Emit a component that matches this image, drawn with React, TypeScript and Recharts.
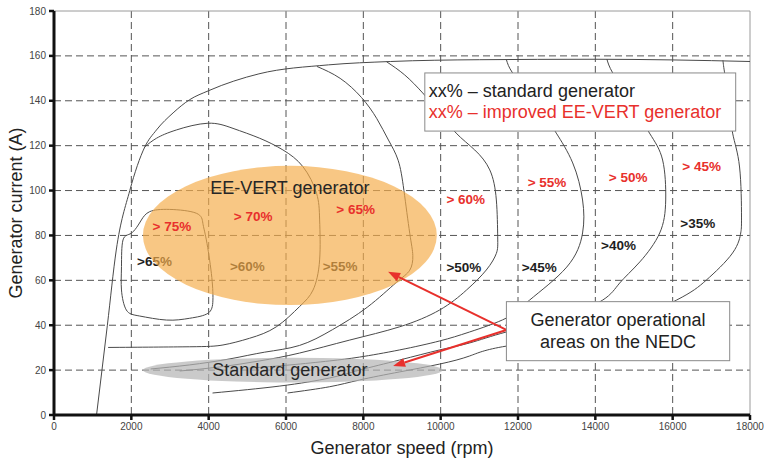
import React from 'react';
import {
  ComposedChart, Line, Scatter, XAxis, YAxis, CartesianGrid, ReferenceArea, ReferenceLine,
} from 'recharts';

const FONT = "'Liberation Sans', Arial, sans-serif";
const RED = '#e8302c';
const CONTOUR = '#4a4a4a';

const xTicks = [0, 2000, 4000, 6000, 8000, 10000, 12000, 14000, 16000, 18000];
const yTicks = [0, 20, 40, 60, 80, 100, 120, 140, 160, 180];
const xGrid = [2000, 4000, 6000, 8000, 10000, 12000, 14000, 16000];
const yGrid = [20, 40, 60, 80, 100, 120, 140, 160];

// max current envelope
const envelope = [
  [1100, 0], [1380, 40], [1610, 73.5], [1960, 100], [2350, 119.5], [2650, 127], [3080, 134.6],
  [3500, 140.4], [4000, 144.5], [5300, 152], [7100, 156], [8700, 157.5], [11000, 158.3],
  [14000, 158.5], [16000, 158.2], [18000, 157.5],
];

// efficiency contours of the standard generator
const c65 = [
  [2260, 86.9], [2475, 90.6], [2990, 91.6], [3680, 89.9], [3850, 85.4], [3940, 78], [4070, 63.1],
  [4110, 51.2], [3980, 45.3], [3510, 43.1], [2910, 42.3], [2215, 44.1], [1870, 46.8], [1745, 55.7],
  [1745, 66.1], [1785, 78], [2000, 81], [2260, 86.9],
];
const c60 = [
  [2350, 119.5], [2650, 123.3], [3165, 127], [3980, 130], [4630, 127.7], [5320, 123.3], [5920, 118.1],
  [6440, 110.6], [6790, 98.8], [6870, 86.9], [6870, 69.1], [6700, 55.7], [6350, 48.3], [5750, 39.3],
  [5060, 34.2], [4370, 31.2], [3510, 30.4], [1400, 30.1],
];
const c55 = [
  [6800, 155.3], [7400, 150], [7950, 141.5], [8350, 132], [8650, 122.5], [8900, 113.5], [9050, 100],
  [9200, 81], [9280, 71], [9200, 64.5], [8850, 59], [8100, 48], [7200, 38], [6350, 31], [5450, 28],
  [4550, 25], [3500, 22.3], [2500, 20.5],
];
const c50 = [
  [8600, 157.4], [9070, 151.5], [9535, 143.5], [9975, 134.6], [10400, 125.6], [10880, 118.1],
  [11270, 109.2], [11440, 95.8], [11475, 79.4], [11440, 72], [11180, 64.6], [10670, 55.7],
  [9975, 46.8], [8940, 39.3], [7650, 33.4], [6350, 27.6], [5320, 24.1], [4285, 21.4], [3250, 19.6],
];
const c45 = [
  [11700, 158.3], [11860, 152.4], [12300, 142.6], [12690, 133.7], [12990, 125.6], [13415, 112.3],
  [13670, 95.8], [13670, 81.1], [13260, 65.9], [12300, 51.2], [11700, 43.2], [10750, 37], [9975, 33],
  [8940, 29], [7900, 25.8], [7130, 24.1], [6100, 22.3], [5060, 20.9],
];
const c40 = [
  [14300, 158.5], [14450, 152.4], [14890, 140.3], [15400, 125.6], [15740, 113.6], [15820, 95.8],
  [15665, 81.1], [15150, 68.2], [14630, 58.8], [14190, 51.2], [13080, 43.2], [11700, 37], [10750, 32.1],
  [9975, 29], [8940, 24.5], [7900, 20], [7130, 16.5], [5840, 12.9], [4100, 9.8],
];
const c35 = [
  [17300, 158], [17346, 152.2], [17450, 140.3], [17550, 125.6], [17730, 110.5], [17780, 88.2],
  [17760, 81.1], [17550, 72.2], [16870, 60.1], [16100, 51.2], [14110, 37.9], [11700, 30.7],
  [10750, 26.3], [9975, 22.7], [8940, 19.2], [7900, 15.6], [7130, 12.6], [6040, 9.8],
];

const standardLabels = [
  { x: 2600, y: 68.5, label: '>65%' }, { x: 5000, y: 66, label: '>60%' }, { x: 7400, y: 66, label: '>55%' },
  { x: 10600, y: 65.5, label: '>50%' }, { x: 12550, y: 65.5, label: '>45%' },
  { x: 14600, y: 75.5, label: '>40%' }, { x: 16650, y: 85.5, label: '>35%' },
];
const improvedLabels = [
  { x: 3050, y: 84, label: '> 75%' }, { x: 5150, y: 88.5, label: '> 70%' }, { x: 7800, y: 91.5, label: '> 65%' },
  { x: 10650, y: 96, label: '> 60%' }, { x: 12750, y: 103.5, label: '> 55%' },
  { x: 14850, y: 106, label: '> 50%' }, { x: 16750, y: 110.5, label: '> 45%' },
];
const areaLabels = [
  { x: 6100, y: 101, label: 'EE-VERT generator' },
  { x: 6100, y: 20, label: 'Standard generator' },
];

const eeVertArea = { x1: 2300, x2: 9900, y1: 49, y2: 111 };
const standardArea = { x1: 2300, x2: 10050, y1: 14.5, y2: 25.5 };
const legendBox = { x1: 9590, x2: 17630, y1: 126.5, y2: 152.4 };
const noteBox = { x1: 11700, x2: 17475, y1: 24.2, y2: 50.5 };
const arrowStart = { x: 11700, y: 37.9 };
const arrowTips = [{ x: 8640, y: 63.8 }, { x: 8770, y: 21.8 }];

const pts = (a: number[][]) => a.map(([x, y]) => ({ x, y }));
const contours = [envelope, c65, c60, c55, c50, c45, c40, c35];

const textShape = (color: string, weight: any, size: number) => (p: any) => (
  <text x={p.cx} y={p.cy} textAnchor="middle" dominantBaseline="central" fill={color}
    fontSize={size} fontWeight={weight} fontFamily={FONT}>{p.payload.label}</text>
);

const ellipseShape = (fill: string, opacity: number) => (p: any) => (
  <ellipse cx={p.x + p.width / 2} cy={p.y + p.height / 2} rx={Math.abs(p.width) / 2}
    ry={Math.abs(p.height) / 2} fill={fill} fillOpacity={opacity} />
);

const legendShape = (p: any) => (
  <g fontFamily={FONT} fontSize={18}>
    <rect x={p.x} y={p.y} width={p.width} height={p.height} fill="#fff" stroke="#8a8a8a" />
    <text x={p.x + 4} y={p.y + 24} fill="#222">xx% – standard generator</text>
    <text x={p.x + 4} y={p.y + 45} fill={RED}>xx% – improved EE-VERT generator</text>
  </g>
);

const noteShape = (p: any) => (
  <g fontFamily={FONT} fontSize={18} fill="#222" textAnchor="middle">
    <rect x={p.x} y={p.y} width={p.width} height={p.height} fill="#fff" stroke="#8a8a8a" />
    <text x={p.x + p.width / 2} y={p.y + 24}>Generator operational</text>
    <text x={p.x + p.width / 2} y={p.y + 46}>areas on the NEDC</text>
  </g>
);

const arrowShape = (p: any) => {
  const { x1, y1, x2, y2 } = p;
  const a = Math.atan2(y2 - y1, x2 - x1);
  const bx = x2 - 12 * Math.cos(a);
  const by = y2 - 12 * Math.sin(a);
  const nx = -Math.sin(a) * 4.5;
  const ny = Math.cos(a) * 4.5;
  return (
    <g>
      <line x1={x1} y1={y1} x2={bx} y2={by} stroke={RED} strokeWidth={2} />
      <polygon points={`${x2},${y2} ${bx + nx},${by + ny} ${bx - nx},${by - ny}`} fill={RED} />
    </g>
  );
};

export default function App() {
  return (
    <div style={{ position: 'absolute', left: 0, top: 0 }}>
      <ComposedChart width={764} height={459} margin={{ top: 11, right: 14, bottom: 0, left: 0 }}>
        <CartesianGrid stroke="#555" strokeDasharray="7 4" horizontalValues={yGrid} verticalValues={xGrid} />
        <ReferenceLine y={180} stroke="#9a9a9a" zIndex={50} />
        <ReferenceLine x={18000} stroke="#9a9a9a" zIndex={50} />
        <XAxis type="number" dataKey="x" domain={[0, 18000]} ticks={xTicks} interval={0} allowDataOverflow
          height={44} tickSize={5} tickMargin={3}
          tick={{ fontSize: 10, fill: '#444', fontFamily: FONT }}
          axisLine={{ stroke: '#111', strokeWidth: 3 }} tickLine={{ stroke: '#111', strokeWidth: 2.5 }}
          label={{
            content: (props: any) => (
              <text x={props.viewBox.x + props.viewBox.width / 2} y={props.viewBox.y + 39}
                textAnchor="middle" fontSize={18} fill="#222" fontFamily={FONT}>Generator speed (rpm)</text>
            ),
          }} />
        <YAxis type="number" dataKey="y" domain={[0, 180]} ticks={yTicks} interval={0} allowDataOverflow
          width={54} tickSize={5} tickMargin={3}
          tick={{ fontSize: 10, fill: '#444', fontFamily: FONT }}
          axisLine={{ stroke: '#111', strokeWidth: 3 }} tickLine={{ stroke: '#111', strokeWidth: 2.5 }}
          label={{
            content: (props: any) => {
              const cx = props.viewBox.x + 16;
              const cy = props.viewBox.y + props.viewBox.height / 2;
              return (
                <text x={cx} y={cy} transform={`rotate(-90 ${cx} ${cy})`} textAnchor="middle"
                  dominantBaseline="central" fontSize={18} fill="#222" fontFamily={FONT}>Generator current (A)</text>
              );
            },
          }} />
        {contours.map((c, i) => (
          <Line key={i} data={pts(c)} dataKey="y" type={i === 0 ? 'monotone' : 'natural'} stroke={CONTOUR}
            strokeWidth={1} dot={false} activeDot={false} isAnimationActive={false} zIndex={400} />
        ))}
        <Scatter data={standardLabels} dataKey="y" shape={textShape('#1e1e1e', 'bold', 13.5)}
          isAnimationActive={false} zIndex={450} />
        <ReferenceArea {...eeVertArea} shape={ellipseShape('#f5ad4a', 0.68)} zIndex={500} />
        <ReferenceArea {...standardArea} shape={ellipseShape('#b4b4b4', 0.7)} zIndex={500} />
        <Scatter data={improvedLabels} dataKey="y" shape={textShape(RED, 'bold', 13.5)}
          isAnimationActive={false} zIndex={600} />
        <Scatter data={areaLabels} dataKey="y" shape={textShape('#262626', 'normal', 18)}
          isAnimationActive={false} zIndex={600} />
        {arrowTips.map((t, i) => (
          <ReferenceLine key={i} segment={[arrowStart, t]} shape={arrowShape} zIndex={700} />
        ))}
        <ReferenceArea {...legendBox} shape={legendShape} zIndex={800} />
        <ReferenceArea {...noteBox} shape={noteShape} zIndex={800} />
      </ComposedChart>
    </div>
  );
}
